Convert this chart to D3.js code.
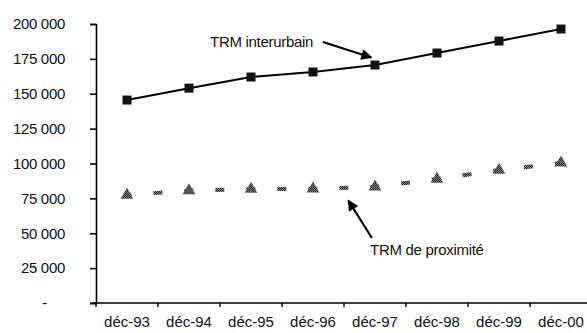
<!DOCTYPE html>
<html>
<head>
<meta charset="utf-8">
<script src="https://cdn.jsdelivr.net/npm/d3@7"></script>
<style>
  html, body { margin: 0; padding: 0; background: #fff; }
  svg { display: block; }
  text { font-family: "Liberation Sans", Arial, sans-serif; fill: #111; }
</style>
</head>
<body>
<svg id="chart" width="587" height="333"></svg>
<script>
// Categories (year-end months)
const categories = ["déc-93", "déc-94", "déc-95", "déc-96", "déc-97", "déc-98", "déc-99", "déc-00"];
// TRM interurbain
const interurbain = [145500, 154000, 162000, 165600, 170600, 179200, 187800, 196400];
// TRM de proximité
const proximite = [77400, 80600, 81600, 81800, 83200, 88900, 95300, 100400];
// Y axis ticks
const yTicks = [0, 25000, 50000, 75000, 100000, 125000, 150000, 175000, 200000];
// Annotations: label, text anchor point and arrow (tail -> tip) in data units
// (x given as a category position, 0 = left edge of first category)
const annotations = [
  { label: "TRM interurbain", text: [1.84, 183800], tail: [3.66, 187100], tip: [4.44, 176000] },
  { label: "TRM de proximité", text: [4.42, 34400], tail: [4.45, 46600], tip: [4.07, 73500] }
];

const svg = d3.select("#chart");
const plotLeft = 96, plotRight = 592, plotTop = 24, plotBottom = 303;

const x = d3.scaleBand().domain(categories).range([plotLeft, plotRight]).padding(0);
const xPos = d3.scaleLinear().domain([0, categories.length]).range([plotLeft, plotRight]);
const y = d3.scaleLinear().domain([0, 200000]).range([plotBottom, plotTop]);

const fr = d3.formatLocale({ decimal: ",", thousands: " ", grouping: [3], currency: ["", " €"] });
const fmt = fr.format(",d");

// Dithered grey fill used by the lower series
const defs = svg.append("defs");
const pat = defs.append("pattern").attr("id", "dither")
  .attr("width", 2).attr("height", 2).attr("patternUnits", "userSpaceOnUse");
pat.append("rect").attr("width", 2).attr("height", 2).attr("fill", "#8a8a8a");
pat.append("rect").attr("width", 1).attr("height", 1).attr("fill", "#111");
pat.append("rect").attr("x", 1).attr("y", 1).attr("width", 1).attr("height", 1).attr("fill", "#2a2a2a");

// Arrowhead
defs.append("marker").attr("id", "arrow")
  .attr("viewBox", "0 0 10 10").attr("refX", 9).attr("refY", 5)
  .attr("markerWidth", 6.5).attr("markerHeight", 5)
  .attr("orient", "auto")
  .attr("markerUnits", "strokeWidth")
  .append("path").attr("d", "M0,0 L10,5 L0,10 Z").attr("fill", "#000");

// Y axis
const yAxis = svg.append("g").attr("transform", `translate(${plotLeft},0)`)
  .call(d3.axisLeft(y).tickValues(yTicks).tickSize(6).tickPadding(25)
    .tickFormat(d => d === 0 ? "-" : fmt(d)));
yAxis.selectAll("path, line").attr("stroke", "#000").attr("stroke-width", 1.6);
yAxis.selectAll("text").style("font-size", "15px").attr("fill", "#111")
  .style("letter-spacing", "-0.3px");
yAxis.selectAll("text").filter(d => d === 0).attr("dx", -18);

// X axis (labels centred on categories, ticks on category boundaries)
const xAxis = svg.append("g").attr("transform", `translate(0,${plotBottom})`)
  .call(d3.axisBottom(x).tickSize(0).tickPadding(13));
xAxis.select(".domain").attr("stroke", "#000").attr("stroke-width", 1.6)
  .attr("d", `M${plotLeft - 4},0H${plotRight}`);
xAxis.selectAll("text").style("font-size", "15px").attr("fill", "#111");
xAxis.selectAll(".boundary")
  .data(d3.range(categories.length + 1))
  .join("line").attr("class", "boundary")
  .attr("x1", i => xPos(i)).attr("x2", i => xPos(i))
  .attr("y1", 0).attr("y2", 4)
  .attr("stroke", "#000").attr("stroke-width", 1.4);

const cx = (d, i) => x(categories[i]) + x.bandwidth() / 2;

// TRM de proximité: dashed grey line with triangle markers
const lineP = d3.line().x((d, i) => cx(d, i)).y(d => y(d));
svg.append("path").datum(proximite)
  .attr("d", lineP)
  .attr("fill", "none")
  .attr("stroke", "url(#dither)")
  .attr("stroke-width", 4)
  .attr("stroke-dasharray", "9,22")
  .attr("stroke-dashoffset", 4.5);
svg.selectAll(".mp").data(proximite).join("path").attr("class", "mp")
  .attr("transform", (d, i) => `translate(${cx(d, i)},${y(d)})`)
  .attr("d", d3.symbol(d3.symbolTriangle, 70))
  .attr("fill", "url(#dither)");

// TRM interurbain: solid black line with square markers
svg.append("path").datum(interurbain)
  .attr("d", lineP)
  .attr("fill", "none")
  .attr("stroke", "#000")
  .attr("stroke-width", 2);
svg.selectAll(".mi").data(interurbain).join("rect").attr("class", "mi")
  .attr("x", (d, i) => cx(d, i) - 4.5).attr("y", d => y(d) - 4.5)
  .attr("width", 9).attr("height", 9)
  .attr("fill", "#111");

// Annotations
annotations.forEach(a => {
  svg.append("line")
    .attr("x1", xPos(a.tail[0])).attr("y1", y(a.tail[1]))
    .attr("x2", xPos(a.tip[0])).attr("y2", y(a.tip[1]))
    .attr("stroke", "#000").attr("stroke-width", 2.2)
    .attr("marker-end", "url(#arrow)");
  svg.append("text")
    .attr("x", xPos(a.text[0])).attr("y", y(a.text[1]))
    .style("font-size", "15px")
    .style("letter-spacing", "-0.3px")
    .text(a.label);
});
</script>
</body>
</html>
